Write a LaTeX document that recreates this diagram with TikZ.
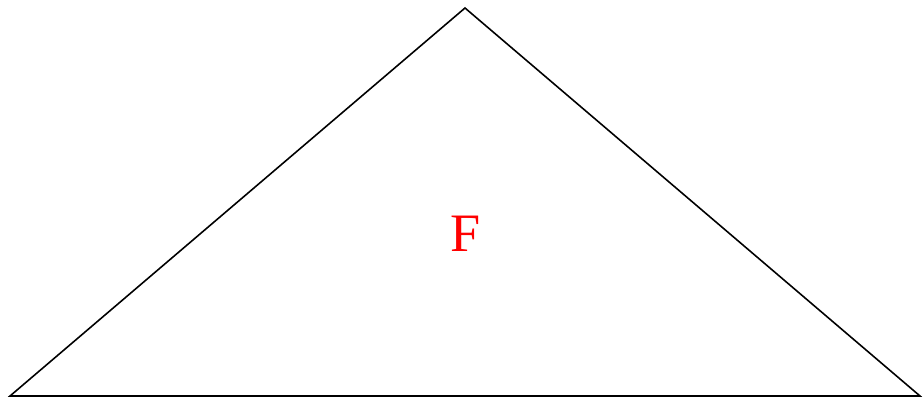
\documentclass[tikz,border=0pt]{standalone}
\usepackage{amsmath}
\usepackage{fontspec}
\setmainfont{Liberation Serif}
\usepackage{tikz}

\begin{document}
\begin{tikzpicture}
		\useasboundingbox (0,0) rectangle (9.24,3.98);
		
		% corners of the triangle
		\coordinate (left) at (0.10,0.02);
		\coordinate (top) at (4.65,3.90);
		\coordinate (right) at (9.20,0.02);
		
		\draw[line width=0.45pt] (left) -- (top) -- (right) -- cycle;
		
		\node[red, font=\fontsize{15.4}{18}\selectfont] (face) at (4.66,1.64) {F};
	\end{tikzpicture}
\end{document}
